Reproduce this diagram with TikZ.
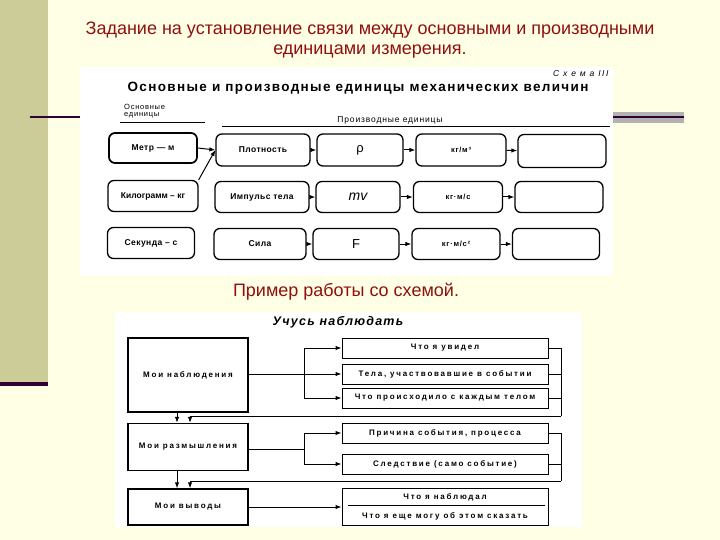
\documentclass[tikz,border=0pt]{standalone}
\usepackage{fontspec}
\setmainfont{Liberation Sans}
\newfontfamily\spc[LetterSpace=5]{Liberation Sans}
\newfontfamily\spct[LetterSpace=10]{Liberation Sans}
\newfontfamily\spcs[LetterSpace=18]{Liberation Sans}
\newfontfamily\spcm[LetterSpace=10]{Liberation Sans}
\newfontfamily\spcw[LetterSpace=22]{Liberation Sans}
\usetikzlibrary{arrows.meta,calc}
\definecolor{bg}{RGB}{255,255,229}
\definecolor{olivebar}{RGB}{204,204,153}
\definecolor{dpurple}{RGB}{51,0,51}
\definecolor{band}{RGB}{178,178,178}
\definecolor{ttl}{RGB}{145,15,15}
\tikzset{
  rb/.style={draw, rounded corners=6pt, line width=1.3pt, minimum height=31pt, inner sep=1pt,
    font=\spc\bfseries\fontsize{8.5}{9}\selectfont},
  unit/.style={font=\spcm\bfseries\fontsize{7.5}{8}\selectfont},
  sym/.style={font=\fontsize{13}{13}\selectfont},
  sb/.style={draw, line width=1.2pt, inner sep=1pt, font=\spcw\bfseries\fontsize{8}{8}\selectfont},
  rbx/.style={sb, minimum width=206pt, minimum height=20pt, line width=1pt},
  arr/.style={-{Latex[length=6pt,width=4.5pt]}, line width=1pt},
  ln/.style={line width=0.9pt},
  big/.style={ttl, font=\fontsize{18}{20}\selectfont, align=center}
}
\begin{document}
\begin{tikzpicture}[x=1pt,y=-1pt]
\useasboundingbox (0,0) rectangle (720,540);
\fill[bg] (0,0) rectangle (720,540);
\fill[olivebar] (0,0) rectangle (48,382);
\fill[dpurple] (0,382) rectangle (48,386);
\fill[band] (612,112) rectangle (684,123);
\draw[dpurple, line width=2.2pt] (30,117) -- (684,117);
\fill[white] (80,67) rectangle (613,276);
\fill[white] (115,312) rectangle (582,527);

\node[big] (title) at (370,40) {Задание на установление связи между основными и производными\\единицами измерения.};
\node[big] (ex) at (346,292) {Пример работы со схемой.};

% ---- scheme 1
\node[anchor=east, font=\spcs\itshape\fontsize{8.5}{8}\selectfont] (sch) at (612,74) {С х е м а III};
\node[font=\spct\bfseries\fontsize{13.5}{12}\selectfont] (t1) at (358,88) {Основные и производные единицы механических величин};
\node[anchor=north west, align=left, inner sep=0pt, font=\spcm\fontsize{7.5}{7.5}\selectfont] (osn) at (124,104) {Основные\\единицы};
\draw[line width=0.8pt] (120,122) -- (205,122);
\node[font=\spcm\fontsize{8.5}{8}\selectfont] (proizv) at (390,120) {Производные единицы};
\draw[line width=0.6pt] (222,126) -- (610,126);

\node[rb, minimum width=88pt, line width=1.7pt, minimum height=30pt] (m) at (153,148) {Метр — м};
\node[rb, minimum width=90pt, font=\bfseries\fontsize{8.5}{9}\selectfont] (kg) at (153,196) {Килограмм – кг};
\node[rb, minimum width=87pt] (s) at (151,243) {Секунда – с};

\node[rb, minimum width=94pt, minimum height=32pt] (pl) at (263,150) {Плотность};
\node[rb, minimum width=86pt, minimum height=32pt, sym] (rho) at (360,150) {ρ};
\node[rb, minimum width=90pt, minimum height=32pt, unit] (kgm3) at (461,150) {кг/м³};
\node[rb, minimum width=88pt, minimum height=33pt] (e1) at (562,151) {};

\node[rb, minimum width=94pt] (imp) at (262,197) {Импульс тела};
\node[rb, minimum width=84pt, font=\itshape\fontsize{14}{14}\selectfont] (mv) at (358,197) {mv};
\node[rb, minimum width=89pt, unit] (kgms) at (458,197) {кг·м/с};
\node[rb, minimum width=88pt] (e2) at (559,197) {};

\node[rb, minimum width=92pt] (sila) at (260,244) {Сила};
\node[rb, minimum width=86pt, sym] (F) at (356,244) {F};
\node[rb, minimum width=88pt, unit] (kgms2) at (456,244) {кг·м/с²};
\node[rb, minimum width=87pt] (e3) at (556,244) {};

\draw[arr] (m.east) -- (pl.west);
\draw[arr] (kg.north east) -- (pl.west);
\draw[arr] (pl) -- (rho);
\draw[arr] (rho) -- (kgm3);
\draw[arr] (kgm3) -- (e1);
\draw[arr] (imp) -- (mv);
\draw[arr] (mv) -- (kgms);
\draw[arr] (kgms) -- (e2);
\draw[arr] (sila) -- (F);
\draw[arr] (F) -- (kgms2);
\draw[arr] (kgms2) -- (e3);

% ---- scheme 2
\node[font=\spct\bfseries\itshape\fontsize{12.5}{12}\selectfont] (t2) at (338,322) {Учусь наблюдать};

\node[sb, minimum width=120pt, minimum height=74pt, line width=1.4pt] (obs) at (188,375) {Мои наблюдения};
\node[sb, minimum width=120pt, minimum height=47pt, line width=1.4pt] (ref) at (188,447) {Мои размышления};
\node[sb, minimum width=120pt, minimum height=36pt, line width=1.4pt] (con) at (188,507) {Мои выводы};

\node[rbx] (see) at (445,348) {Что я увидел};
\node[rbx] (tela) at (445,374) {Тела, участвовавшие в событии};
\node[rbx] (proc) at (445,398) {Что происходило с каждым телом};
\node[rbx] (prich) at (445,433) {Причина события, процесса};
\node[rbx] (sled) at (445,464) {Следствие (само событие)};
\node[rbx, minimum height=37pt] (what) at (445,507) {};
\node[font=\spcw\bfseries\fontsize{8}{8}\selectfont] (w1) at (445,497) {Что я наблюдал};
\node[font=\spcw\bfseries\fontsize{8}{8}\selectfont] (w2) at (445,516) {Что я еще могу об этом сказать};
\draw[line width=0.9pt] (348,505) -- (545,505);

\coordinate (xa) at (177,0);
\coordinate (xb) at (190,0);
\coordinate (xr) at (561,0);
\coordinate (b1) at (304,374);
\coordinate (b2) at (304,449);

% observations
\draw[arr] (obs.east |- b1) -- (tela.west);
\draw[arr] (b1 |- see.west) -- (see.west);
\draw[arr] (b1 |- proc.west) -- (proc.west);
\draw[ln] (b1 |- see.west) -- (b1 |- proc.west);
\coordinate (f1) at (561,416);
\draw[ln] (see.east) -- (see.east -| xr) -- (f1);
\draw[ln] (tela.east) -- (tela.east -| xr);
\draw[ln] (proc.east) -- (proc.east -| xr);
\draw[arr] (f1) -- (xb |- f1) -- (xb |- ref.north);
\draw[arr] (xa |- obs.south) -- (xa |- ref.north);

% reflections
\draw[arr] (ref.east |- b2) -- (b2) |- (prich.west);
\draw[arr] (b2) |- (sled.west);
\coordinate (f2) at (561,481);
\draw[ln] (prich.east) -- (prich.east -| xr) -- (f2);
\draw[ln] (sled.east) -- (sled.east -| xr);
\draw[arr] (f2) -- (xb |- f2) -- (xb |- con.north);
\draw[arr] (xa |- ref.south) -- (xa |- con.north);

% conclusions
\draw[arr] (con.east |- what.west) -- (what.west);
\end{tikzpicture}
\end{document}
